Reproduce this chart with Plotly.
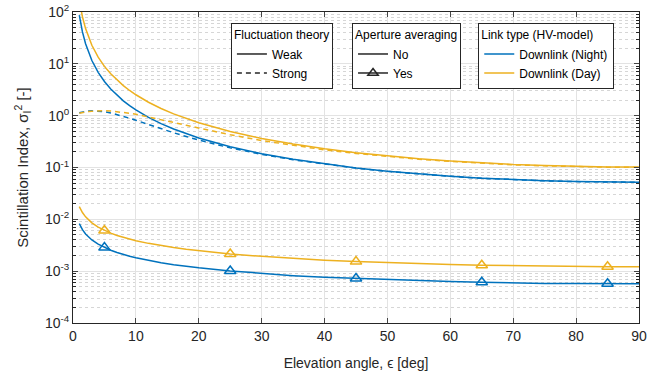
import plotly.graph_objects as go

# ---------------- data ----------------
elev = [1, 1.5, 2, 2.5, 3, 4, 5, 6, 7, 8, 9, 10, 12, 14, 16, 18, 20, 25, 30, 35,
        40, 45, 50, 55, 60, 65, 70, 75, 80, 85, 90]

night_weak = [86.9, 41.3, 24.4, 16.2, 11.6, 6.86, 4.56, 3.27, 2.46, 1.93, 1.56, 1.29,
              0.926, 0.701, 0.552, 0.448, 0.372, 0.252, 0.185, 0.144, 0.117, 0.0982,
              0.0847, 0.0750, 0.0677, 0.0622, 0.0583, 0.0554, 0.0535, 0.0524, 0.0520]
day_weak = [170.4, 81.0, 47.9, 31.8, 22.8, 13.45, 8.94, 6.41, 4.83, 3.79, 3.06, 2.53,
            1.817, 1.376, 1.083, 0.878, 0.729, 0.495, 0.363, 0.283, 0.229, 0.193,
            0.166, 0.147, 0.133, 0.122, 0.114, 0.109, 0.105, 0.1027, 0.102]
night_strong = [1.144, 1.186, 1.215, 1.234, 1.242, 1.233, 1.191, 1.129, 1.054, 0.973,
                0.892, 0.815, 0.674, 0.559, 0.468, 0.396, 0.338, 0.239, 0.179, 0.141,
                0.1155, 0.0974, 0.0842, 0.0747, 0.0675, 0.0620, 0.0581, 0.0553, 0.0534,
                0.0523, 0.0519]
day_strong = [1.114, 1.149, 1.177, 1.201, 1.219, 1.239, 1.242, 1.227, 1.200, 1.160,
              1.113, 1.062, 0.951, 0.841, 0.740, 0.651, 0.575, 0.429, 0.331, 0.266,
              0.219, 0.187, 0.162, 0.1445, 0.131, 0.1204, 0.1126, 0.1077, 0.1038,
              0.1015, 0.1008]
night_aa = [0.00825, 0.00631, 0.00522, 0.00451, 0.00400, 0.00331, 0.00285, 0.00253,
            0.00229, 0.00209, 0.00194, 0.00181, 0.00161, 0.00145, 0.00133, 0.00124,
            0.00116, 0.00101, 0.00090, 0.00082, 0.00076, 0.00072, 0.00068, 0.00065,
            0.00063, 0.00061, 0.00059, 0.00058, 0.00058, 0.00057, 0.00057]
day_aa = [0.01765, 0.01351, 0.01117, 0.00964, 0.00855, 0.00707, 0.00610, 0.00542,
          0.00489, 0.00448, 0.00415, 0.00387, 0.00344, 0.00311, 0.00286, 0.00265,
          0.00248, 0.00215, 0.00193, 0.00176, 0.00163, 0.00153, 0.00145, 0.00139,
          0.00134, 0.00130, 0.00127, 0.00125, 0.00123, 0.00122, 0.00122]
marker_elev = [5, 25, 45, 65, 85]

x_ticks = [0, 10, 20, 30, 40, 50, 60, 70, 80, 90]
y_exponents = [-4, -3, -2, -1, 0, 1, 2]

# ---------------- styling ----------------
BLUE = "#0072BD"
ORANGE = "#EDB120"
AX = "#262626"
FONT = "Liberation Sans, Arial, sans-serif"
DASH = "5px,4px"

fig = go.Figure()

def add_line(y, color, dash="solid"):
    fig.add_trace(go.Scatter(x=elev, y=y, mode="lines",
                             line=dict(color=color, width=1.5, dash=dash),
                             showlegend=False, hoverinfo="skip"))

add_line(night_weak, BLUE)
add_line(day_weak, ORANGE)
add_line(night_strong, BLUE, DASH)
add_line(day_strong, ORANGE, DASH)
add_line(night_aa, BLUE)
add_line(day_aa, ORANGE)

for series, color in [(night_aa, BLUE), (day_aa, ORANGE)]:
    my = [series[elev.index(v)] for v in marker_elev]
    fig.add_trace(go.Scatter(x=marker_elev, y=my, mode="markers",
                             marker=dict(symbol="triangle-up-open", size=10,
                                         color=color, line=dict(color=color, width=1.5)),
                             showlegend=False, hoverinfo="skip"))

# legend entries
def leg(name, legend, color="#262626", dash="solid", marker=False):
    fig.add_trace(go.Scatter(
        x=[None], y=[None], name=name, legend=legend,
        mode="lines+markers" if marker else "lines",
        line=dict(color=color, width=1.5, dash=dash),
        marker=dict(symbol="triangle-up-open", size=9, color=color,
                    line=dict(color=color, width=1.5)) if marker else None,
        showlegend=True))

leg("Weak", "legend")
leg("Strong", "legend", dash=DASH)
leg("No", "legend2")
leg("Yes", "legend2", marker=True)
leg("Downlink (Night)", "legend3", color=BLUE)
leg("Downlink (Day)", "legend3", color=ORANGE)

LEG_FONT = dict(family=FONT, size=12, color="#000000")
legend_common = dict(bgcolor="white", bordercolor=AX, borderwidth=1,
                     font=LEG_FONT, xanchor="left", yanchor="top",
                     tracegroupgap=0, itemwidth=30)

minor_y = [k * 10 ** e for e in range(-4, 2) for k in range(2, 10)]

fig.update_layout(
    width=662, height=375,
    margin=dict(l=73, r=23, t=12, b=52),
    paper_bgcolor="white", plot_bgcolor="white",
    font=dict(family=FONT, size=14, color=AX),
    legend=dict(title=dict(text="Fluctuation theory", font=LEG_FONT),
                x=0.279, y=0.965, **legend_common),
    legend2=dict(title=dict(text="Aperture averaging", font=LEG_FONT),
                 x=0.493, y=0.965, **legend_common),
    legend3=dict(title=dict(text="Link type (HV-model)", font=LEG_FONT),
                 x=0.716, y=0.965, **legend_common),
    xaxis=dict(range=[0, 90], tickvals=x_ticks, ticks="inside", ticklen=5,
               showline=True, linecolor=AX, linewidth=1, mirror="ticks",
               showgrid=True, gridcolor="#e3e3e3", gridwidth=1, zeroline=False,
               automargin=False,
               tickfont=dict(size=14, color=AX),
               title=dict(text="Elevation angle, ϵ [deg]", font=dict(size=14, color=AX))),
    yaxis=dict(type="log", range=[-4, 2],
               tickvals=[10 ** e for e in y_exponents],
               ticktext=["10<sup>%d</sup>" % e for e in y_exponents],
               ticks="inside", ticklen=5, ticklabeloverflow="allow",
               showline=True, linecolor=AX, linewidth=1, mirror="ticks",
               showgrid=True, gridcolor="#e3e3e3", gridwidth=1, zeroline=False,
               automargin=False,
               tickfont=dict(size=14, color=AX),
               minor=dict(tickvals=minor_y, ticks="inside", ticklen=3, tickcolor=AX,
                          showgrid=True, gridcolor="#d6d6d6", griddash="dot", gridwidth=1),
               title=dict(text="Scintillation Index, σ<sub>I</sub><sup>2</sup> [-]",
                          font=dict(size=15, color=AX), standoff=12)),
)

# remove the browser's default 8px body margin so the figure sits at the page origin
fig.write_html("out.html",
               config={"displayModeBar": False},
               post_script="document.body.style.margin='0px';document.body.style.overflow='hidden';")
